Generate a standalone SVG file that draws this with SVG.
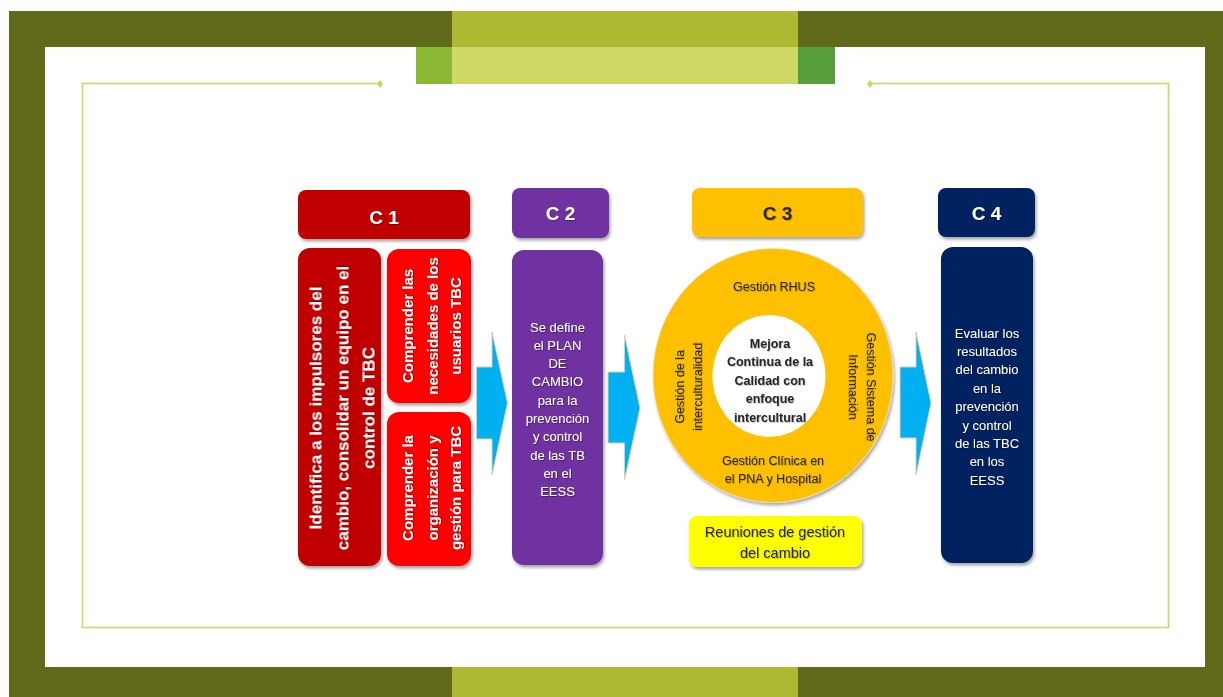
<svg xmlns="http://www.w3.org/2000/svg" width="1223" height="697" viewBox="0 0 1223 697">
  <defs>
    <filter id="boxShadow" x="-20%" y="-20%" width="140%" height="140%">
      <feDropShadow dx="1.5" dy="2.5" stdDeviation="1.8" flood-color="#000" flood-opacity="0.35"/>
    </filter>
    <filter id="textShadow" x="-10%" y="-10%" width="120%" height="120%">
      <feDropShadow dx="0.8" dy="0.8" stdDeviation="0.5" flood-color="#000" flood-opacity="0.45"/>
    </filter>
    <filter id="darkTextShadow" x="-10%" y="-10%" width="120%" height="120%">
      <feDropShadow dx="0.8" dy="0.8" stdDeviation="0.5" flood-color="#000" flood-opacity="0.25"/>
    </filter>
  </defs>
  <style>
    text { font-family: "Liberation Sans", Arial, sans-serif; text-anchor: middle; }
    .hdr { font-size: 19px; font-weight: bold; }
    .w { fill: #ffffff; filter: url(#textShadow); }
    .d { fill: #262626; filter: url(#darkTextShadow); }
    .b17 { font-size: 17px; font-weight: bold; }
    .b15 { font-size: 15px; font-weight: bold; }
    .r13 { font-size: 13px; }
    .r125 { font-size: 12.5px; }
    .bold125 { font-size: 12.5px; font-weight: bold; }
    .r145 { font-size: 14.5px; }
    .box { filter: url(#boxShadow); }
    .arrow { fill: #00b0f0; stroke: #d8cfae; stroke-width: 1; stroke-linejoin: miter; }
    .frameLine { fill: none; stroke: #c9d75c; stroke-width: 1.6; }
  </style>

  <!-- page frame and banner -->
  <g id="frame">
    <rect x="9" y="11" width="1214" height="686" fill="#616a1a"/>
    <rect x="452" y="11" width="346" height="36" fill="#adb932"/>
    <rect x="452" y="667" width="346" height="30" fill="#adb932"/>
    <rect x="45" y="47" width="1160" height="620" fill="#ffffff"/>
    <rect x="416" y="47" width="36" height="37" fill="#8ab832"/>
    <rect x="452" y="47" width="346" height="37" fill="#cfd865"/>
    <rect x="798" y="47" width="37" height="37" fill="#559e3a"/>
    <path class="frameLine" d="M380 83.5 H82.5 V627.5 H1168.5 V83.5 H870"/>
    <path d="M380 80 L383 84 L380 88 L377 84 Z" fill="#c9d75c"/>
    <path d="M870 80 L873 84 L870 88 L867 84 Z" fill="#c9d75c"/>
  </g>

  <!-- C1 -->
  <g id="c1-header">
    <rect class="box" x="298" y="190" width="172" height="49" rx="8" fill="#c00000"/>
    <text class="hdr w" x="384" y="224">C 1</text>
  </g>
  <g id="c1-main">
    <rect class="box" x="298" y="248" width="83" height="318" rx="12" fill="#c00000"/>
    <g transform="translate(341.5 408) rotate(-90)">
      <text class="b17 w" x="0" y="-20.5">Identifica a los impulsores del</text>
      <text class="b17 w" x="0" y="6.5">cambio, consolidar un equipo en el</text>
      <text class="b17 w" x="0" y="33">control de TBC</text>
    </g>
  </g>
  <g id="c1-needs">
    <rect class="box" x="387" y="249" width="84" height="154" rx="12" fill="#ff0000"/>
    <g transform="translate(432 326) rotate(-90)">
      <text class="b15 w" x="0" y="-19">Comprender las</text>
      <text class="b15 w" x="0" y="5.5">necesidades de los</text>
      <text class="b15 w" x="0" y="29">usuarios TBC</text>
    </g>
  </g>
  <g id="c1-org">
    <rect class="box" x="387" y="412" width="84" height="154" rx="12" fill="#ff0000"/>
    <g transform="translate(432 488) rotate(-90)">
      <text class="b15 w" x="0" y="-19">Comprender la</text>
      <text class="b15 w" x="0" y="5.5">organización y</text>
      <text class="b15 w" x="0" y="29">gestión para TBC</text>
    </g>
  </g>

  <!-- C2 -->
  <g id="c2-header">
    <rect class="box" x="512" y="188" width="97" height="50" rx="8" fill="#7030a0"/>
    <text class="hdr w" x="560.5" y="220">C 2</text>
  </g>
  <g id="c2-body">
    <rect class="box" x="512" y="250" width="91" height="315" rx="12" fill="#7030a0"/>
    <text class="r13 w" x="557.5" y="331.5">Se define</text>
    <text class="r13 w" x="557.5" y="349.8">el PLAN</text>
    <text class="r13 w" x="557.5" y="368.1">DE</text>
    <text class="r13 w" x="557.5" y="386.4">CAMBIO</text>
    <text class="r13 w" x="557.5" y="404.7">para la</text>
    <text class="r13 w" x="557.5" y="423">prevención</text>
    <text class="r13 w" x="557.5" y="441.3">y control</text>
    <text class="r13 w" x="557.5" y="459.6">de las TB</text>
    <text class="r13 w" x="557.5" y="477.9">en el</text>
    <text class="r13 w" x="557.5" y="496.2">EESS</text>
  </g>

  <!-- C3 -->
  <g id="c3-header">
    <rect class="box" x="692" y="188" width="171" height="49" rx="8" fill="#ffc000"/>
    <text class="hdr d" x="777.5" y="220">C 3</text>
  </g>
  <g id="c3-cycle">
    <ellipse class="box" cx="773" cy="375.5" rx="120" ry="127" fill="#ffc000" stroke="#e8e0c8" stroke-width="0.8"/>
    <ellipse cx="769" cy="376" rx="56.5" ry="61" fill="#ffffff"/>
    <text class="r125 d" x="774" y="290.5">Gestión RHUS</text>
    <text class="r125 d" x="773" y="464.5">Gestión Clínica en</text>
    <text class="r125 d" x="773" y="482.5">el PNA y Hospital</text>
    <g transform="translate(688 387) rotate(-90)">
      <text class="r125 d" x="0" y="-4.5">Gestión de la</text>
      <text class="r125 d" x="0" y="13.5">interculturalidad</text>
    </g>
    <g transform="translate(862 387) rotate(90)">
      <text class="r125 d" x="0" y="-5.5">Gestión Sistema de</text>
      <text class="r125 d" x="0" y="13">Información</text>
    </g>
    <text class="bold125 d" x="770" y="347.5">Mejora</text>
    <text class="bold125 d" x="770" y="366">Continua de la</text>
    <text class="bold125 d" x="770" y="384.5">Calidad con</text>
    <text class="bold125 d" x="770" y="403">enfoque</text>
    <text class="bold125 d" x="770" y="421.5">intercultural</text>
  </g>
  <g id="c3-meetings">
    <rect class="box" x="689" y="516" width="173" height="51" rx="8" fill="#ffff00"/>
    <text class="r145 d" x="775" y="537">Reuniones de gestión</text>
    <text class="r145 d" x="775" y="558">del cambio</text>
  </g>

  <!-- C4 -->
  <g id="c4-header">
    <rect class="box" x="938" y="188" width="97" height="49" rx="8" fill="#002060"/>
    <text class="hdr w" x="986.5" y="220">C 4</text>
  </g>
  <g id="c4-body">
    <rect class="box" x="941" y="247" width="92" height="316" rx="12" fill="#002060"/>
    <text class="r13 w" x="987" y="337.5">Evaluar los</text>
    <text class="r13 w" x="987" y="355.9">resultados</text>
    <text class="r13 w" x="987" y="374.3">del cambio</text>
    <text class="r13 w" x="987" y="392.7">en la</text>
    <text class="r13 w" x="987" y="411.1">prevención</text>
    <text class="r13 w" x="987" y="429.5">y control</text>
    <text class="r13 w" x="987" y="447.9">de las TBC</text>
    <text class="r13 w" x="987" y="466.3">en los</text>
    <text class="r13 w" x="987" y="484.7">EESS</text>
  </g>

  <!-- connectors: block arrows between stages -->
  <g id="connectors">
    <path class="arrow" d="M476.5 367 H492 V332 L507.5 403 L492 475 V439 H476.5 Z"/>
    <path class="arrow" d="M608 372 H624.5 V335 L640 408 L624.5 480 V443 H608 Z"/>
    <path class="arrow" d="M900 367 H916 V332 L931 403 L916 475 V438 H900 Z"/>
  </g>
</svg>
